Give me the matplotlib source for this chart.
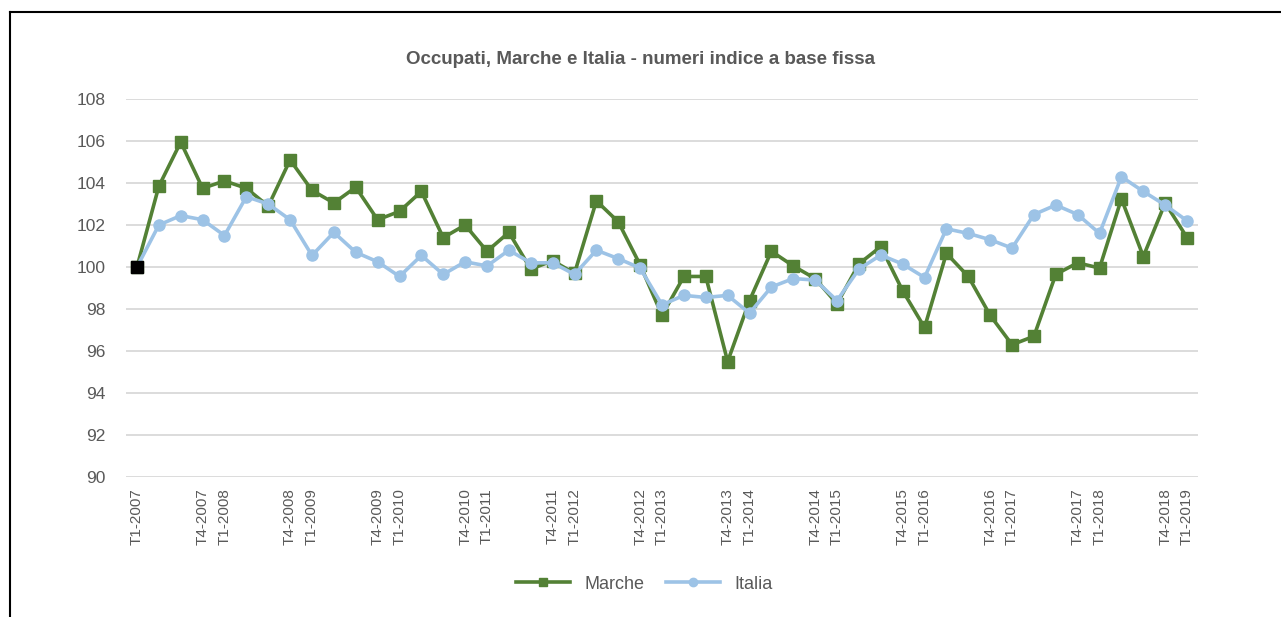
import matplotlib
matplotlib.use("Agg")
import matplotlib.pyplot as plt
from matplotlib.lines import Line2D

plt.rcParams['font.family'] = ['Liberation Sans', 'DejaVu Sans']

# quarters T1-2007 .. T1-2019
quarters = [f"T{q}-{y}" for y in range(2007, 2020) for q in range(1, 5)][:49]
tick_labels = [q if q.startswith(("T1", "T4")) else "" for q in quarters]

marche = [100.0, 103.85, 105.95, 103.75, 104.1, 103.75, 102.9, 105.1, 103.65, 103.05,
          103.8, 102.25, 102.65, 103.6, 101.4, 102.0, 100.75, 101.65, 99.9, 100.3,
          99.7, 103.15, 102.15, 100.1, 97.7, 99.55, 99.55, 95.5, 98.4, 100.75,
          100.05, 99.45, 98.25, 100.15, 100.97, 98.87, 97.12, 100.65, 99.55, 97.7,
          96.3, 96.7, 99.65, 100.2, 99.95, 103.25, 100.5, 103.05, 101.4]
italia = [100.0, 102.0, 102.45, 102.25, 101.5, 103.35, 103.0, 102.25, 100.55, 101.65,
          100.7, 100.25, 99.55, 100.55, 99.65, 100.25, 100.05, 100.8, 100.2, 100.2,
          99.65, 100.8, 100.4, 99.95, 98.2, 98.65, 98.55, 98.65, 97.8, 99.05,
          99.45, 99.38, 98.4, 99.9, 100.57, 100.14, 99.5, 101.82, 101.6, 101.3,
          100.9, 102.5, 102.95, 102.5, 101.6, 104.3, 103.6, 102.95, 102.2]

green = '#538135'
blue = '#9DC3E6'
grey = '#595959'

fig = plt.figure(figsize=(12.81, 6.17), dpi=100)
ax = fig.add_axes([0.0984, 0.2269, 0.8368, 0.6126])

x = range(len(quarters))
ax.plot(x, marche, color=green, lw=2.6, marker='s', ms=8.5, zorder=3, label='Marche')
ax.plot(x, italia, color=blue, lw=2.6, marker='o', ms=8, zorder=4, label='Italia')
ax.plot([0], [marche[0]], 's', color='black', ms=8.5, zorder=5)

ax.set_xlim(-0.5, len(quarters) - 0.5)
ax.set_ylim(90, 108)
ax.set_yticks(range(90, 109, 2))
ax.grid(axis='y', color='#D9D9D9', lw=1.3)
ax.set_axisbelow(True)
for s in ax.spines.values():
    s.set_visible(False)
ax.tick_params(length=0, colors=grey)
ax.tick_params(axis='y', labelsize=12.5, pad=15)
ax.set_xticks(list(x))
ax.set_xticklabels(tick_labels, rotation=90, fontsize=11, color=grey)
ax.tick_params(axis='x', pad=8)

fig.text(0.5, 0.903, 'Occupati, Marche e Italia - numeri indice a base fissa',
         ha='center', va='center', fontsize=13.5, fontweight='bold', color=grey)

leg_handles = [Line2D([], [], color=green, lw=2.6, marker='s', ms=6),
               Line2D([], [], color=blue, lw=2.6, marker='o', ms=6)]
fig.legend(leg_handles, ['Marche', 'Italia'], loc='center', bbox_to_anchor=(0.503, 0.053),
           ncol=2, frameon=False, fontsize=13, handlelength=3.0, columnspacing=1.2,
           labelcolor=grey)

# chart frame (top and left edges)
fig.add_artist(Line2D([0.008, 1.0], [0.981, 0.981], color='black', lw=1.5))
fig.add_artist(Line2D([0.008, 0.008], [0.0, 0.981], color='black', lw=1.5))

fig.savefig('out.png', dpi=100)
